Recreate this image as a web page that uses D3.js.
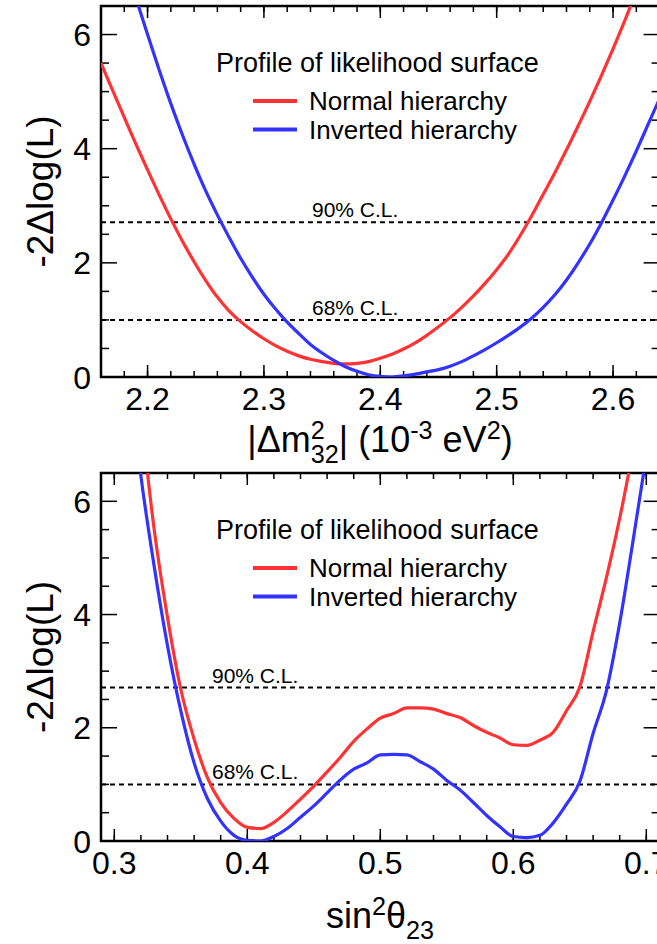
<!DOCTYPE html>
<html>
<head>
<meta charset="utf-8">
<script src="https://cdn.jsdelivr.net/npm/d3@7"></script>
<style>
  body { margin: 0; background: #fff; }
  svg { display: block; font-family: "Liberation Sans", Arial, sans-serif; }
</style>
</head>
<body>
<div class="chart"></div>
<script>
// top panel: |dm2_32| scan
var dm2X = [2.16,2.17,2.18,2.19,2.20,2.21,2.22,2.23,2.24,2.25,2.26,2.27,2.28,2.29,2.30,2.31,2.32,2.33,2.34,2.35,2.36,2.37,2.38,2.39,2.40,
            2.41,2.42,2.43,2.44,2.45,2.46,2.47,2.48,2.49,2.50,2.51,2.52,2.53,2.54,2.55,2.56,2.57,2.58,2.59,2.60,2.61,2.62,2.63,2.64];
var dm2NH = [5.50,5.02,4.55,4.08,3.63,3.19,2.77,2.38,2.02,1.69,1.40,1.16,0.97,0.81,0.67,0.55,0.45,0.37,0.31,0.27,0.24,0.23,0.24,0.27,0.33,
             0.40,0.49,0.60,0.73,0.88,1.04,1.22,1.42,1.64,1.88,2.15,2.47,2.82,3.20,3.58,3.98,4.40,4.83,5.28,5.75,6.24,6.75,7.28,7.82];
var dm2IH = [8.68,7.98,7.30,6.64,6.00,5.38,4.79,4.24,3.73,3.26,2.84,2.45,2.08,1.75,1.45,1.19,0.96,0.76,0.57,0.42,0.29,0.18,0.10,0.04,0.01,
             0.00,0.02,0.05,0.09,0.13,0.19,0.27,0.37,0.48,0.60,0.73,0.87,1.03,1.22,1.44,1.70,2.00,2.33,2.70,3.10,3.52,3.96,4.42,4.88];
var dm2Ticks = [2.2,2.3,2.4,2.5,2.6];

// bottom panel: sin^2(theta23) scan
var s23X = [0.31,0.32,0.33,0.34,0.35,0.36,0.37,0.38,0.39,0.40,0.41,0.42,0.43,0.44,0.45,0.46,0.47,0.48,0.49,0.50,
            0.51,0.52,0.53,0.54,0.55,0.56,0.57,0.58,0.59,0.60,0.61,0.62,0.63,0.64,0.65,0.66,0.67,0.68,0.69,0.70];
var s23NH = [9.20,7.50,5.50,3.95,2.68,1.80,1.12,0.68,0.40,0.24,0.22,0.33,0.52,0.74,0.97,1.22,1.48,1.76,1.98,2.17,
             2.25,2.35,2.35,2.33,2.25,2.18,2.04,1.92,1.82,1.70,1.69,1.78,1.92,2.30,2.72,3.70,4.65,5.70,6.90,8.20];
var s23IH = [8.50,6.45,4.85,3.45,2.30,1.38,0.75,0.35,0.10,0.01,0.00,0.08,0.22,0.42,0.62,0.85,1.08,1.27,1.38,1.52,
             1.53,1.52,1.40,1.27,1.07,0.90,0.68,0.45,0.25,0.08,0.06,0.10,0.32,0.65,1.05,1.90,2.65,3.85,5.30,6.80];
var s23Ticks = [0.3,0.4,0.5,0.6,0.7];

var yTicks = [0,2,4,6];
var clLevels = [2.71, 1.0];
var clNames = ["90% C.L.", "68% C.L."];
var legendTitle = "Profile of likelihood surface";
var seriesNames = ["Normal hierarchy", "Inverted hierarchy"];
var seriesColors = ["#ff3333", "#3333ff"];

var W = 657, H = 944;
var svg = d3.select(".chart").append("svg").attr("width", W).attr("height", H);

// text with super/subscripts; parts: {t, sup, sub, stack}
function richText(sel, size, parts) {
  var t = sel.append("text").style("font-size", size + "px");
  var shift = 0, lastW = 0;
  parts.forEach(function(p) {
    var s = t.append("tspan").text(p.t);
    var small = p.sup || p.sub;
    var target = p.sup ? -0.36 * size : (p.sub ? 0.3 * size : 0);
    if (small) s.style("font-size", (size * 0.7) + "px");
    s.attr("dy", target - shift);
    shift = target;
    if (p.stack) s.attr("dx", -lastW);
    lastW = s.node().getComputedTextLength();
  });
  return t;
}

function drawPanel(opt) {
  var left = 101, right = 659.6;
  var x = d3.scaleLinear().domain(opt.xDomain).range([left, right]),
      y = d3.scaleLinear().domain([0, 6.5]).range([opt.bottom, opt.top]);

  var g = svg.append("g");
  var clipId = "clip-" + opt.name;
  g.append("clipPath").attr("id", clipId)
    .append("rect")
      .attr("x", left).attr("y", opt.top)
      .attr("width", right - left).attr("height", opt.bottom - opt.top);

  // ticks on all four sides
  var xMinorT = [];
  for (var v = Math.ceil(opt.xDomain[0] * 50); v <= opt.xDomain[1] * 50 + 1e-9; v++) xMinorT.push(v / 50);
  var yMinor = d3.range(0, 6.51, 0.5);

  [[opt.bottom, -1], [opt.top, 1]].forEach(function(side, i) {
    g.selectAll(".xminor" + i).data(xMinorT).enter().append("line")
      .attr("x1", function(d) { return x(d); }).attr("x2", function(d) { return x(d); })
      .attr("y1", side[0]).attr("y2", side[0] + side[1] * 6)
      .attr("stroke", "#000").attr("stroke-width", 1.5);
    g.selectAll(".xmajor" + i).data(opt.xTicks).enter().append("line")
      .attr("x1", function(d) { return x(d); }).attr("x2", function(d) { return x(d); })
      .attr("y1", side[0]).attr("y2", side[0] + side[1] * 12)
      .attr("stroke", "#000").attr("stroke-width", 1.5);
  });

  [left, right].forEach(function(px, i) {
    var dir = i === 0 ? 1 : -1;
    g.selectAll(".ytick" + i).data(yMinor).enter().append("line")
      .attr("x1", px).attr("x2", function(d) { return px + dir * (d % 2 === 0 ? 16 : 8); })
      .attr("y1", function(d) { return y(d); }).attr("y2", function(d) { return y(d); })
      .attr("stroke", "#000").attr("stroke-width", 1.5);
  });

  // frame
  g.append("rect")
    .attr("x", left).attr("y", opt.top)
    .attr("width", right - left).attr("height", opt.bottom - opt.top)
    .attr("fill", "none").attr("stroke", "#000").attr("stroke-width", 2.5);

  // tick labels
  g.selectAll(".xlab").data(opt.xTicks).enter().append("text")
    .attr("x", function(d) { return x(d); })
    .attr("y", opt.bottom + 33)
    .attr("text-anchor", "middle")
    .style("font-size", "32px")
    .text(function(d) { return d3.format(opt.xFmt)(d); });
  g.selectAll(".ylab").data(yTicks).enter().append("text")
    .attr("x", 91)
    .attr("y", function(d) { return y(d) + 11.5; })
    .attr("text-anchor", "end")
    .style("font-size", "32px")
    .text(function(d) { return d; });

  // CL lines
  g.selectAll(".cl").data(clLevels).enter().append("line")
    .attr("x1", left).attr("x2", right)
    .attr("y1", function(d) { return y(d); }).attr("y2", function(d) { return y(d); })
    .attr("stroke", "#000").attr("stroke-width", 2)
    .attr("stroke-dasharray", "5,4");
  g.selectAll(".cllab").data(clLevels).enter().append("text")
    .attr("x", opt.clX)
    .attr("y", function(d) { return y(d) - 5; })
    .style("font-size", "21px")
    .text(function(d, i) { return clNames[i]; });

  // curves
  var line = d3.line()
    .curve(d3.curveMonotoneX)
    .x(function(d) { return x(d[0]); })
    .y(function(d) { return y(d[1]); });
  var curves = g.append("g").attr("clip-path", "url(#" + clipId + ")");
  [opt.nh, opt.ih].forEach(function(vals, i) {
    curves.append("path")
      .datum(opt.xs.map(function(xv, j) { return [xv, vals[j]]; }))
      .attr("fill", "none")
      .attr("stroke", seriesColors[i])
      .attr("stroke-width", 3.2)
      .attr("stroke-linejoin", "round")
      .attr("d", line);
  });

  // legend
  var lg = g.append("g");
  lg.append("text")
    .attr("x", 216).attr("y", opt.top + 66)
    .style("font-size", "27px")
    .text(legendTitle);
  seriesNames.forEach(function(name, i) {
    var ly = opt.top + 95 + i * 28.5;
    lg.append("line")
      .attr("x1", 253).attr("x2", 297)
      .attr("y1", ly).attr("y2", ly)
      .attr("stroke", seriesColors[i]).attr("stroke-width", 4);
    lg.append("text")
      .attr("x", 309).attr("y", ly + 9)
      .style("font-size", "26px")
      .text(name);
  });

  // axis titles
  g.append("text")
    .attr("transform", "translate(53," + ((opt.top + opt.bottom) / 2) + ") rotate(-90)")
    .attr("text-anchor", "middle")
    .style("font-size", "37px")
    .text("-2\u0394log(L)");

  var xt = richText(g, 36, opt.xTitle);
  xt.attr("text-anchor", "middle")
    .attr("transform", "translate(380," + opt.titleY + ")");
}

drawPanel({
  name: "dm2", top: 6, bottom: 377, xDomain: [2.16, 2.64], xTicks: dm2Ticks, xFmt: ".1f",
  xs: dm2X, nh: dm2NH, ih: dm2IH, clX: 312, titleY: 452,
  xTitle: [{t: "|\u0394m"}, {t: "2", sup: true}, {t: "32", sub: true, stack: true},
           {t: "| (10"}, {t: "-3", sup: true}, {t: " eV"}, {t: "2", sup: true}, {t: ")"}]
});
drawPanel({
  name: "s23", top: 473, bottom: 841, xDomain: [0.29, 0.71], xTicks: s23Ticks, xFmt: ".1f",
  xs: s23X, nh: s23NH, ih: s23IH, clX: 212, titleY: 928,
  xTitle: [{t: "sin"}, {t: "2", sup: true}, {t: "\u03b8"}, {t: "23", sub: true}]
});
</script>
</body>
</html>
